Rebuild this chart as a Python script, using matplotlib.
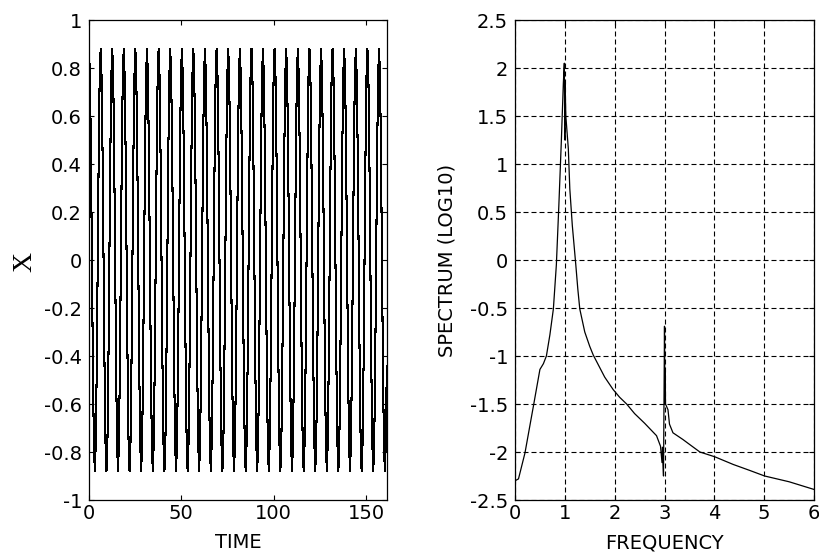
import numpy as np
import matplotlib
matplotlib.use("Agg")
import matplotlib.pyplot as plt

# left panel: peak times of the oscillation
peak_times = [0.0, 6.3, 12.6, 18.8, 25.1, 31.4, 37.7, 44.0, 50.3, 56.5,
              62.8, 69.1, 75.4, 81.7, 88.0, 94.2, 100.5, 106.8, 113.1, 119.4,
              125.7, 131.9, 138.2, 144.5, 150.8, 157.1]
t_end = 161.4
# one cycle of the waveform (starting at a peak), 12 samples
cycle_shape = [0.88, 0.76, 0.44, 0.0, -0.44, -0.76,
               -0.88, -0.76, -0.44, 0.0, 0.44, 0.76]

# right panel: log10 spectrum
freq = [0.00, 0.07, 0.20, 0.37, 0.50, 0.57, 0.63, 0.70, 0.77, 0.83,
        0.88, 0.93, 0.97, 0.99, 1.00, 1.005, 1.02, 1.07, 1.10, 1.15,
        1.22, 1.26, 1.30, 1.40, 1.50, 1.57, 1.70, 1.80, 1.97, 2.10,
        2.24, 2.40, 2.60, 2.84, 2.92, 2.95, 2.96, 2.97, 2.98, 3.00,
        3.01, 3.015, 3.02, 3.07, 3.10, 3.17, 3.37, 3.50, 3.71, 4.01,
        4.38, 4.70, 5.01, 5.50, 6.00]
spec = [-2.30, -2.28, -2.01, -1.52, -1.14, -1.08, -1.00, -0.78, -0.51, -0.05,
        0.57, 1.24, 1.84, 2.05, 1.25, 1.85, 1.50, 1.16, 0.74, 0.36,
        -0.05, -0.30, -0.51, -0.75, -0.90, -0.99, -1.12, -1.22, -1.35, -1.43,
        -1.50, -1.60, -1.70, -1.83, -1.94, -2.11, -1.95, -2.13, -2.25, -0.69,
        -1.50, -1.13, -1.50, -1.56, -1.71, -1.80, -1.87, -1.92, -2.00, -2.05,
        -2.13, -2.19, -2.25, -2.31, -2.39]

left_yticks = [-1, -0.8, -0.6, -0.4, -0.2, 0, 0.2, 0.4, 0.6, 0.8, 1]
left_ylabels = ['-1', '-0.8', '-0.6', '-0.4', '-0.2', '0', '0.2', '0.4', '0.6', '0.8', '1']
left_xticks = [0, 50, 100, 150]
right_yticks = [-2.5, -2, -1.5, -1, -0.5, 0, 0.5, 1, 1.5, 2, 2.5]
right_ylabels = ['-2.5', '-2', '-1.5', '-1', '-0.5', '0', '0.5', '1', '1.5', '2', '2.5']
right_xticks = [0, 1, 2, 3, 4, 5, 6]

plt.rcParams['font.family'] = ['DejaVu Sans']
plt.rcParams['font.size'] = 14

# lay the read cycle shape between the read peak times
periods = list(np.diff(peak_times)) + [np.mean(np.diff(peak_times))]
t_list = []
x_list = []
n = len(cycle_shape)
for p, per in zip(peak_times, periods):
    for j in range(n):
        tt = p + per * j / n
        if tt <= t_end:
            t_list.append(tt)
            x_list.append(cycle_shape[j])

fig = plt.figure(figsize=(8.19, 5.54), dpi=100)
ax1 = fig.add_axes([89/819, 1 - 500/554, 298/819, 480/554])
ax2 = fig.add_axes([515/819, 1 - 500/554, 299/819, 480/554])

ax1.plot(t_list, x_list, color='k', lw=0.75, antialiased=False)
ax1.set_xlim(0, t_end)
ax1.set_ylim(-1, 1)
ax1.set_yticks(left_yticks)
ax1.set_yticklabels(left_ylabels)
ax1.set_xticks(left_xticks)
ax1.set_xticklabels([str(v) for v in left_xticks])

ax2.plot(freq, spec, color='k', lw=0.9)
ax2.set_xlim(0, 6)
ax2.set_ylim(-2.5, 2.5)
ax2.set_yticks(right_yticks)
ax2.set_yticklabels(right_ylabels)
ax2.set_xticks(right_xticks)
ax2.set_xticklabels([str(v) for v in right_xticks])
ax2.grid(True, color='k', lw=0.8, linestyle=(0, (4.5, 2.7)))

for ax in (ax1, ax2):
    for s in ax.spines.values():
        s.set_linewidth(0.9)
    ax.tick_params(direction='in', length=3.5, width=0.8, top=True, right=True,
                   labelsize=14)
    ax.tick_params(axis='y', pad=5)
    ax.tick_params(axis='x', pad=3)

fig.text(238/819, 1 - 543/554, 'TIME', ha='center', va='center', fontsize=14)
fig.text(664/819, 1 - 543/554, 'FREQUENCY', ha='center', va='center', fontsize=14)
fig.text(25/819, 1 - 262/554, 'X', ha='center', va='center', fontsize=20,
         family='Liberation Serif', rotation=90)
fig.text(447/819, 1 - 260/554, 'SPECTRUM (LOG10)', ha='center', va='center',
         fontsize=14, rotation=90)

fig.savefig('out.png', dpi=100)
